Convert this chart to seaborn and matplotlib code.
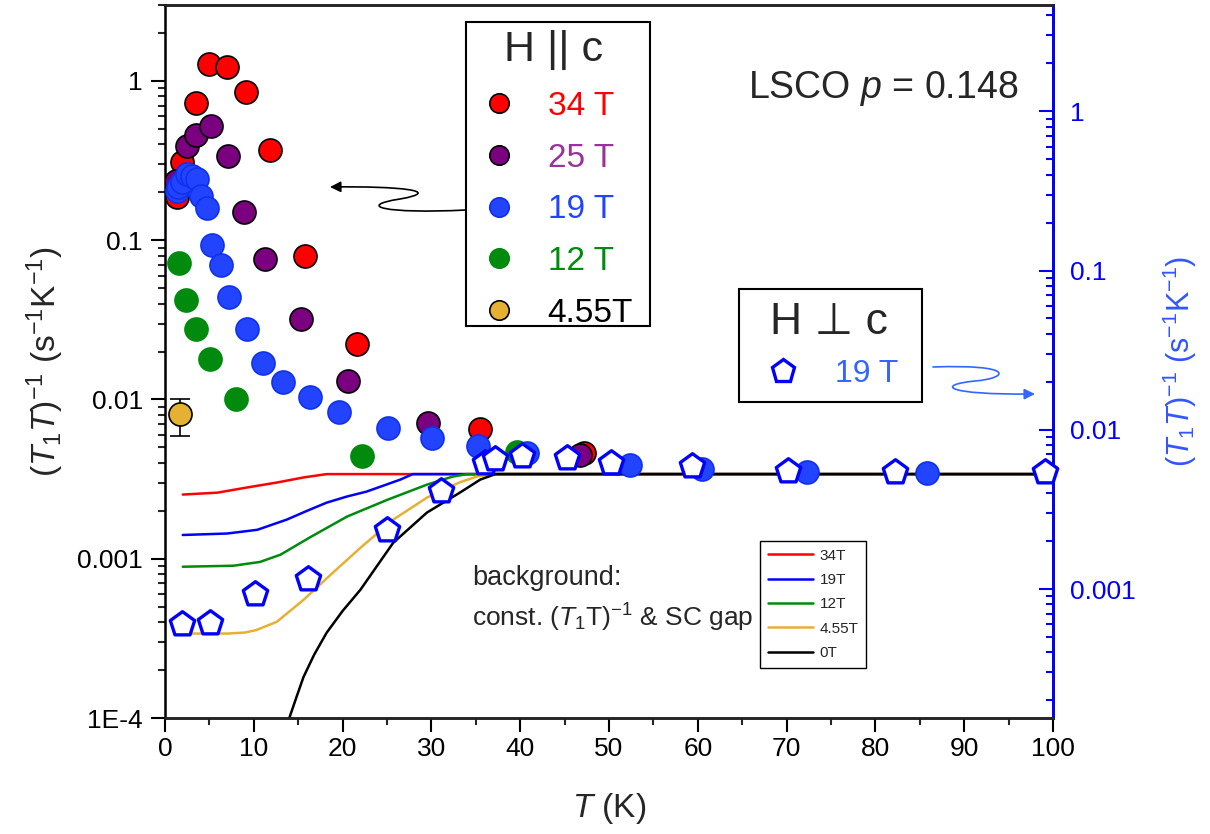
import numpy as np
import matplotlib
matplotlib.use('Agg')
import matplotlib.pyplot as plt
import seaborn as sns
from matplotlib.lines import Line2D
from matplotlib.patches import FancyArrowPatch, Rectangle
from matplotlib.path import Path
from matplotlib.ticker import FixedLocator, FixedFormatter, LogLocator, NullFormatter, MultipleLocator

sns.set_theme(style='ticks')
plt.rcParams['font.family'] = ['Liberation Sans', 'DejaVu Sans']
plt.rcParams['mathtext.fontset'] = 'custom'
plt.rcParams['mathtext.rm'] = 'Liberation Sans'
plt.rcParams['mathtext.it'] = 'Liberation Sans:italic'

# H || c data (left axis)
T34 = [1.4, 1.9, 3.5, 4.95, 7.0, 9.1, 11.8, 15.8, 21.6, 35.5, 47.2]
R34 = [0.186, 0.31, 0.73, 1.28, 1.22, 0.85, 0.37, 0.080, 0.0222, 0.0065, 0.0046]
T25 = [1.2, 2.45, 3.5, 5.2, 7.1, 8.9, 11.3, 15.3, 20.6, 29.6, 46.7]
R25 = [0.235, 0.39, 0.46, 0.52, 0.34, 0.15, 0.076, 0.032, 0.013, 0.0071, 0.0045]
T19 = [1.3, 1.5, 1.9, 2.45, 3.0, 3.6, 4.1, 4.7, 5.3, 6.3, 7.2, 9.2, 11.0, 13.3, 16.3,
       19.6, 25.1, 30.1, 35.2, 40.8, 52.4, 60.5, 72.3, 85.8]
R19 = [0.203, 0.215, 0.232, 0.26, 0.253, 0.241, 0.189, 0.159, 0.094, 0.070, 0.044, 0.0276,
       0.017, 0.0128, 0.0104, 0.0083, 0.0066, 0.0057, 0.0051, 0.0046, 0.0039, 0.00368,
       0.00352, 0.00347]
T12 = [1.6, 2.4, 3.5, 5.1, 8.0, 22.2, 39.6]
R12 = [0.0716, 0.042, 0.0276, 0.0179, 0.0100, 0.0044, 0.0047]
T455 = [1.7]
R455 = [0.0081]
R455_lo = [0.0059]
R455_hi = [0.0100]

# H perp c, 19 T (right axis)
Tperp = [1.9, 5.1, 10.1, 16.1, 25.0, 31.1, 36.0, 37.2, 40.2, 45.3, 50.2, 59.3, 70.2, 82.2, 99.1]
Rperp = [6.0e-4, 6.1e-4, 9.3e-4, 1.16e-3, 2.36e-3, 4.15e-3, 6.2e-3, 6.6e-3, 6.8e-3, 6.7e-3,
         6.2e-3, 5.9e-3, 5.55e-3, 5.4e-3, 5.45e-3]

# background curves: const. (T1T)^-1 & SC gap
bg_T34 = [2.0, 5.9, 9.2, 12.6, 15.6, 18.2, 100.0]
bg_R34 = [0.00253, 0.00260, 0.00280, 0.00301, 0.00324, 0.0034, 0.0034]
bg_T19 = [2.0, 7.0, 10.4, 13.7, 16.0, 18.2, 20.5, 22.7, 26.5, 27.9, 100.0]
bg_R19 = [0.00141, 0.00144, 0.00152, 0.00176, 0.00200, 0.00225, 0.00246, 0.00264, 0.00314, 0.0034, 0.0034]
bg_T12 = [2.0, 7.7, 10.7, 13.0, 16.3, 20.5, 25.0, 29.5, 32.4, 34.0, 100.0]
bg_R12 = [0.000891, 0.000904, 0.000955, 0.00106, 0.00136, 0.00184, 0.00234, 0.00292, 0.00328, 0.0034, 0.0034]
bg_T455 = [2.0, 7.0, 9.0, 10.3, 12.6, 15.6, 18.9, 22.0, 25.7, 29.5, 33.2, 35.1, 36.8, 100.0]
bg_R455 = [0.000339, 0.000339, 0.000344, 0.000357, 0.000402, 0.000552, 0.000817, 0.00117, 0.00176,
           0.00242, 0.00302, 0.00328, 0.0034, 0.0034]
bg_T0 = [13.8, 14.0, 14.8, 15.6, 16.8, 18.2, 20.0, 22.0, 25.7, 29.5, 33.2, 35.5, 37.2, 100.0]
bg_R0 = [9.0e-5, 1.0e-4, 1.35e-4, 1.81e-4, 2.5e-4, 3.43e-4, 4.7e-4, 6.38e-4, 1.26e-3, 1.95e-3,
         2.60e-3, 3.14e-3, 0.0034, 0.0034]

c_red = '#ff0000'
c_pur = '#7a007f'
c_blu = '#2244ff'
c_grn = '#008a0e'
c_org = '#e6b033'

W, H = 1210, 834
fig = plt.figure(figsize=(W / 100, H / 100), dpi=100)
ax = fig.add_axes([165 / W, 1 - 718 / H, (1053 - 165) / W, (718 - 5) / H])
ax.set_yscale('log')

# background curves
for tt, rr, col in [(bg_T34, bg_R34, c_red), (bg_T19, bg_R19, '#0000ff'),
                    (bg_T12, bg_R12, c_grn), (bg_T455, bg_R455, c_org), (bg_T0, bg_R0, 'black')]:
    sns.lineplot(x=tt, y=rr, ax=ax, color=col, lw=1.8, sort=False, estimator=None, zorder=2)

# error bar for 4.55 T
ax.errorbar(T455, R455, yerr=[[R455[0] - R455_lo[0]], [R455_hi[0] - R455[0]]],
            fmt='none', ecolor='black', elinewidth=1.2, capsize=7, capthick=1.2, zorder=3)

ms = 275
sns.scatterplot(x=T34, y=R34, ax=ax, color=c_red, s=ms, edgecolor='black', linewidth=1.2, zorder=4, legend=False)
sns.scatterplot(x=T25, y=R25, ax=ax, color=c_pur, s=ms, edgecolor='black', linewidth=1.2, zorder=4, legend=False)
sns.scatterplot(x=T19, y=R19, ax=ax, color=c_blu, s=ms, edgecolor='#1030f0', linewidth=1.2, zorder=4, legend=False)
sns.scatterplot(x=T12, y=R12, ax=ax, color=c_grn, s=ms, edgecolor=c_grn, linewidth=1.2, zorder=4, legend=False)
sns.scatterplot(x=T455, y=R455, ax=ax, color=c_org, s=ms, edgecolor='black', linewidth=1.2, zorder=4, legend=False)

ax.set_xlim(0, 100)
ax.set_ylim(1e-4, 3)
ax.xaxis.set_major_locator(MultipleLocator(10))
ax.xaxis.set_minor_locator(MultipleLocator(5))
ax.yaxis.set_major_locator(FixedLocator([1e-4, 1e-3, 1e-2, 1e-1, 1]))
ax.yaxis.set_major_formatter(FixedFormatter(['1E-4', '0.001', '0.01', '0.1', '1']))
ax.yaxis.set_minor_locator(LogLocator(base=10, subs=np.arange(2, 10)))
ax.yaxis.set_minor_formatter(NullFormatter())
ax.tick_params(axis='both', which='major', direction='out', length=10, width=1.5, labelsize=19, colors='black')
ax.tick_params(axis='both', which='minor', direction='out', length=5, width=1.5)
ax.tick_params(axis='x', top=False, which='both')
ax.tick_params(axis='y', which='major', pad=6)
for sp in ax.spines.values():
    sp.set_linewidth(1.8)
    sp.set_color('black')
ax.set_xlabel(r'$T$ (K)', fontsize=24, labelpad=22)
ax.set_ylabel(r'($T_1T$)$^{-1}$ (s$^{-1}$K$^{-1}$)', fontsize=24, labelpad=8)

# right axis
ax2 = ax.twinx()
ax2.set_yscale('log')
sns.scatterplot(x=Tperp, y=Rperp, ax=ax2, marker='p', s=340, color='white', edgecolor='#0000ff',
                linewidth=2.4, zorder=5, legend=False, clip_on=False)
ax2.set_ylim(1.55e-4, 4.65)
ax2.yaxis.set_major_locator(FixedLocator([1e-3, 1e-2, 1e-1, 1]))
ax2.yaxis.set_major_formatter(FixedFormatter(['0.001', '0.01', '0.1', '1']))
ax2.yaxis.set_minor_locator(LogLocator(base=10, subs=np.arange(2, 10)))
ax2.yaxis.set_minor_formatter(NullFormatter())
ax2.tick_params(axis='y', which='major', direction='in', length=10, width=1.5, labelsize=19,
                colors='#0000ff', pad=12)
ax2.tick_params(axis='y', which='minor', direction='in', length=5, width=1.5, colors='#0000ff')
ax2.spines['right'].set_color('#0000ff')
ax2.spines['right'].set_linewidth(2)
ax2.spines['left'].set_visible(False)
ax2.spines['top'].set_linewidth(1.8)
ax2.spines['bottom'].set_linewidth(1.8)
ax2.set_ylabel(r'($T_1T$)$^{-1}$ (s$^{-1}$K$^{-1}$)', fontsize=22, color='#3355ff', labelpad=18)

# legend frames drawn as plain boxes
for x0, y0, x1, y1 in [(466, 22, 650, 326), (739, 289, 922, 402)]:
    ax2.add_patch(Rectangle((x0 / W, 1 - y1 / H), (x1 - x0) / W, (y1 - y0) / H,
                            transform=fig.transFigure, facecolor='white', edgecolor='black',
                            lw=1.5, zorder=6, clip_on=False))

# legends
par_cols = [c_red, c_pur, c_blu, c_grn, c_org]
par_edges = ['black', 'black', '#1030f0', c_grn, 'black']
par_text = [c_red, '#993399', '#2244ff', c_grn, 'black']
par_labels = ['34 T', '25 T', '19 T', '12 T', '4.55T']
h_par = [Line2D([], [], ls='none', marker='o', ms=14, mfc=c, mec=e, mew=1.2)
         for c, e in zip(par_cols, par_edges)]
leg1 = ax2.legend(h_par, par_labels, title='H || c', loc='upper left',
                  bbox_to_anchor=(466 / W, 1 - 22 / H), bbox_transform=fig.transFigure,
                  borderaxespad=0, fontsize=24, title_fontsize=31, frameon=False,
                  labelspacing=0.62, handletextpad=0.75, handlelength=1.45, borderpad=0.25)
for t, c in zip(leg1.get_texts(), par_text):
    t.set_color(c)
leg1.set_zorder(7)
ax2.add_artist(leg1)

h_perp = [Line2D([], [], ls='none', marker='p', ms=17, mfc='white', mec='#0000ff', mew=2.4)]
leg2 = ax2.legend(h_perp, ['19 T'], title='H \u22a5 c', loc='upper left',
                  bbox_to_anchor=(746 / W, 1 - 289 / H), bbox_transform=fig.transFigure,
                  borderaxespad=0, fontsize=23, title_fontsize=32, frameon=False,
                  handletextpad=0.9, handlelength=1.5, borderpad=0.4)
leg2.get_texts()[0].set_color('#3366ff')
leg2.set_zorder(7)
ax2.add_artist(leg2)

bg_cols = [c_red, '#0000ff', c_grn, c_org, 'black']
bg_labels = ['34T', '19T', '12T', '4.55T', '0T']
h_bg = [Line2D([], [], color=c, lw=1.8) for c in bg_cols]
leg3 = ax2.legend(h_bg, bg_labels, loc='upper left',
                  bbox_to_anchor=(760 / W, 1 - 541 / H), bbox_transform=fig.transFigure,
                  borderaxespad=0, fontsize=11, frameon=True, fancybox=False, edgecolor='black',
                  framealpha=1, labelspacing=0.68, handlelength=3.0, handletextpad=0.4,
                  borderpad=0.5)
leg3.get_frame().set_linewidth(1.0)
leg3.set_zorder(7)

# annotations
ax2.text(748 / W, 1 - 88 / H, r'LSCO $p$ = 0.148', transform=fig.transFigure, fontsize=27,
         ha='left', va='center')
ax2.text(472 / W, 1 - 578 / H, 'background:', transform=fig.transFigure, fontsize=19.5,
         ha='left', va='center')
ax2.text(472 / W, 1 - 618 / H, r'const. ($T_1$T)$^{-1}$ & SC gap', transform=fig.transFigure,
         fontsize=19, ha='left', va='center')


def fpt(x, y):
    return (x / W, 1 - y / H)


codes = [Path.MOVETO, Path.CURVE4, Path.CURVE4, Path.CURVE4, Path.CURVE4, Path.CURVE4, Path.CURVE4]
verts_l = [fpt(466, 210), fpt(385, 214), fpt(355, 206), fpt(400, 199),
           fpt(445, 191), fpt(400, 186), fpt(330, 187)]
arr_l = FancyArrowPatch(path=Path(verts_l, codes), arrowstyle='-|>', mutation_scale=16,
                        color='black', lw=1.2, transform=fig.transFigure)
fig.add_artist(arr_l)
verts_r = [fpt(933, 367), fpt(1015, 364), fpt(1010, 378), fpt(975, 381),
           fpt(935, 385), fpt(945, 395), fpt(1035, 394)]
arr_r = FancyArrowPatch(path=Path(verts_r, codes), arrowstyle='-|>', mutation_scale=16,
                        color='#3366ff', lw=1.2, transform=fig.transFigure)
fig.add_artist(arr_r)

fig.savefig('out.png', dpi=100)
